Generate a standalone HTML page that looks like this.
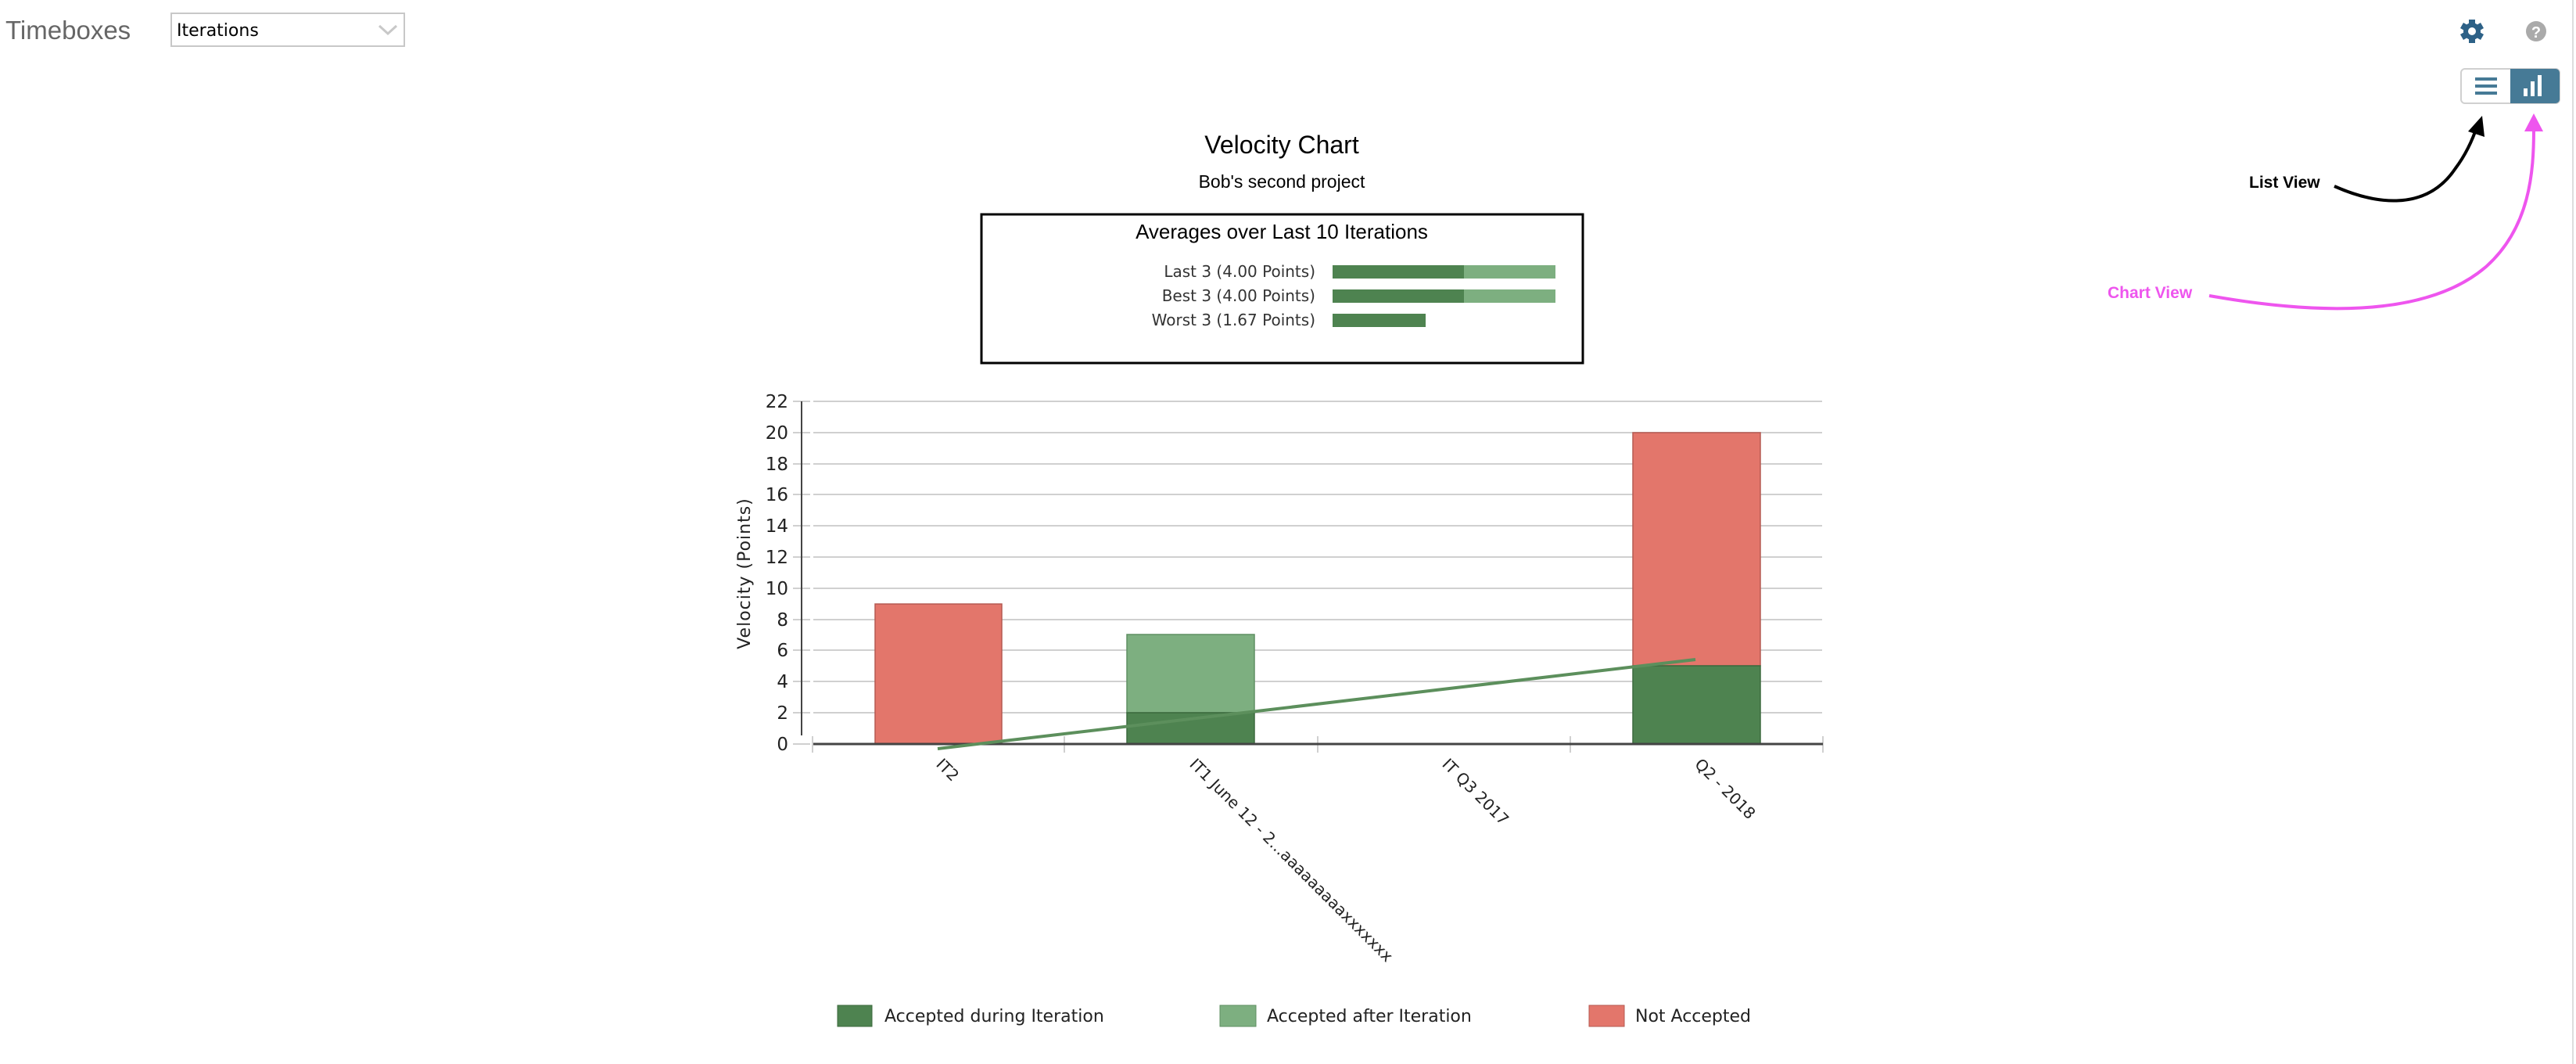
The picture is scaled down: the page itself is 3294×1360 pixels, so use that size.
<!DOCTYPE html>
<html><head><meta charset="utf-8"><style>
html,body{margin:0;padding:0;background:#fff;width:3294px;height:1360px;overflow:hidden}
svg{display:block}
</style></head><body>
<svg width="3294" height="1360" viewBox="0 0 3294 1360" xmlns="http://www.w3.org/2000/svg" font-family="Liberation Sans, DejaVu Sans, sans-serif">
<!-- header -->
<text x="7" y="50" font-size="33" fill="#666">Timeboxes</text>
<rect x="219" y="17" width="298" height="42" fill="#fff" stroke="#c8c8c8" stroke-width="2"/>
<text x="226" y="46" font-size="22" fill="#000" font-family="DejaVu Sans, sans-serif">Iterations</text>
<polyline points="485,33 496,43 507,33" fill="none" stroke="#c8c8c8" stroke-width="3"/>
<!-- gear -->
<g transform="translate(3161,40)" fill="#2d6187">
<circle r="11"/>
<g><rect x="-4" y="-15" width="8" height="30"/><rect x="-4" y="-15" width="8" height="30" transform="rotate(60)"/><rect x="-4" y="-15" width="8" height="30" transform="rotate(120)"/></g>
<circle r="5" fill="#fff"/>
</g>
<circle cx="3243" cy="40" r="13" fill="#aaa"/>
<text x="3243" y="48" font-size="20" font-weight="bold" fill="#fff" text-anchor="middle">?</text>
<!-- toggle -->
<rect x="3147" y="88" width="126" height="44" rx="5" fill="#fff" stroke="#d0d0d0" stroke-width="2"/>
<path d="M3210,88 H3268 a5,5 0 0 1 5,5 V127 a5,5 0 0 1 -5,5 H3210 Z" fill="#467a96"/>
<rect x="3165" y="99" width="28" height="4" fill="#467a96"/><rect x="3165" y="108" width="28" height="4" fill="#467a96"/><rect x="3165" y="117" width="28" height="4" fill="#467a96"/>
<rect x="3227" y="113" width="5" height="10" fill="#fff"/><rect x="3236" y="104" width="5" height="19" fill="#fff"/><rect x="3245" y="96" width="5" height="27" fill="#fff"/>
<line x1="3290" y1="0" x2="3290" y2="1360" stroke="#ddd" stroke-width="2"/>
<!-- annotations -->
<text x="2876" y="240" font-size="21" font-weight="bold" fill="#000">List View</text>
<path d="M2985,238 C3030,258 3100,275 3140,215 C3155,195 3163,175 3168,160" fill="none" stroke="#000" stroke-width="4"/>
<polygon points="3174,148 3156,168 3177,175" fill="#000"/>
<text x="2695" y="381" font-size="21" font-weight="bold" fill="#ee55ee">Chart View</text>
<path d="M2825,378 C2950,400 3100,410 3180,340 C3235,290 3240,220 3240,165" fill="none" stroke="#ee55ee" stroke-width="4"/>
<polygon points="3240,145 3228,168 3252,168" fill="#ee55ee"/>
<!-- titles -->
<text x="1639" y="196" font-size="32" text-anchor="middle" fill="#000">Velocity Chart</text>
<text x="1639" y="240" font-size="23" text-anchor="middle" fill="#000">Bob's second project</text>
<rect x="1255" y="274" width="769" height="190" fill="none" stroke="#000" stroke-width="3"/>
<text x="1639" y="305" font-size="26" text-anchor="middle" fill="#000">Averages over Last 10 Iterations</text>
<g font-size="20" fill="#333" text-anchor="end" font-family="DejaVu Sans, sans-serif">
<text x="1682" y="354">Last 3 (4.00 Points)</text>
<text x="1682" y="385">Best 3 (4.00 Points)</text>
<text x="1682" y="416">Worst 3 (1.67 Points)</text>
</g>
<rect x="1704" y="339" width="285" height="17" fill="#7daf80"/><rect x="1704" y="339" width="168" height="17" fill="#4e8350"/>
<rect x="1704" y="370" width="285" height="17" fill="#7daf80"/><rect x="1704" y="370" width="168" height="17" fill="#4e8350"/>
<rect x="1704" y="401" width="119" height="17" fill="#4e8350"/>
<!-- grid -->
<g stroke="#d0d0d0" stroke-width="2">
<line x1="1040" y1="513" x2="2330" y2="513"/><line x1="1040" y1="553" x2="2330" y2="553"/>
<line x1="1040" y1="593" x2="2330" y2="593"/><line x1="1040" y1="632" x2="2330" y2="632"/>
<line x1="1040" y1="672" x2="2330" y2="672"/><line x1="1040" y1="712" x2="2330" y2="712"/>
<line x1="1040" y1="752" x2="2330" y2="752"/><line x1="1040" y1="792" x2="2330" y2="792"/>
<line x1="1040" y1="831" x2="2330" y2="831"/><line x1="1040" y1="871" x2="2330" y2="871"/>
<line x1="1040" y1="911" x2="2330" y2="911"/>
<line x1="1014" y1="513" x2="1036" y2="513"/><line x1="1014" y1="553" x2="1036" y2="553"/>
<line x1="1014" y1="593" x2="1036" y2="593"/><line x1="1014" y1="632" x2="1036" y2="632"/>
<line x1="1014" y1="672" x2="1036" y2="672"/><line x1="1014" y1="712" x2="1036" y2="712"/>
<line x1="1014" y1="752" x2="1036" y2="752"/><line x1="1014" y1="792" x2="1036" y2="792"/>
<line x1="1014" y1="831" x2="1036" y2="831"/><line x1="1014" y1="871" x2="1036" y2="871"/>
<line x1="1014" y1="911" x2="1036" y2="911"/><line x1="1014" y1="951" x2="1036" y2="951"/>
<line x1="1039" y1="941" x2="1039" y2="962"/><line x1="1361" y1="941" x2="1361" y2="962"/>
<line x1="1685" y1="941" x2="1685" y2="962"/><line x1="2008" y1="941" x2="2008" y2="962"/>
<line x1="2331" y1="941" x2="2331" y2="962"/>
</g>
<line x1="1025" y1="513" x2="1025" y2="940" stroke="#444" stroke-width="2"/>
<g font-size="23" fill="#222" text-anchor="end" font-family="DejaVu Sans, sans-serif">
<text x="1008" y="521">22</text><text x="1008" y="561">20</text><text x="1008" y="601">18</text>
<text x="1008" y="640">16</text><text x="1008" y="680">14</text><text x="1008" y="720">12</text>
<text x="1008" y="760">10</text><text x="1008" y="800">8</text><text x="1008" y="839">6</text>
<text x="1008" y="879">4</text><text x="1008" y="919">2</text><text x="1008" y="959">0</text>
</g>
<text transform="translate(959,733) rotate(-90)" font-size="22" fill="#222" text-anchor="middle" font-family="DejaVu Sans, sans-serif" letter-spacing="1">Velocity (Points)</text>
<!-- bars -->
<g stroke-width="1.5">
<rect x="1119" y="772" width="162" height="179" fill="#e3766b" stroke="#b55a52"/>
<rect x="1441" y="811" width="163" height="100" fill="#7daf80" stroke="#5f8f62"/>
<rect x="1441" y="911" width="163" height="40" fill="#4e8350" stroke="#3c6a3e"/>
<rect x="2088" y="553" width="163" height="298" fill="#e3766b" stroke="#b55a52"/>
<rect x="2088" y="851" width="163" height="100" fill="#4e8350" stroke="#3c6a3e"/>
</g>
<line x1="1040" y1="951" x2="2331" y2="951" stroke="#444" stroke-width="3"/>
<line x1="1199" y1="957" x2="2168" y2="843" stroke="#5c8f5c" stroke-width="4"/>
<!-- x labels -->
<g font-size="20" fill="#222" font-family="DejaVu Sans, sans-serif">
<text transform="translate(1196,978) rotate(45)">IT2</text>
<text transform="translate(1520,978) rotate(45)">IT1  June 12 - 2...aaaaaaaaaxxxxxxx</text>
<text transform="translate(1843,978) rotate(45)">IT Q3 2017</text>
<text transform="translate(2166,978) rotate(45)">Q2 - 2018</text>
</g>
<!-- legend -->
<rect x="1071" y="1285" width="44" height="27" fill="#4e8350" stroke="#3c6a3e"/>
<rect x="1560" y="1285" width="46" height="27" fill="#7daf80" stroke="#5f8f62"/>
<rect x="2032" y="1285" width="45" height="27" fill="#e3766b" stroke="#b55a52"/>
<g font-size="22" fill="#222" font-family="DejaVu Sans, sans-serif">
<text x="1131" y="1306">Accepted during Iteration</text>
<text x="1620" y="1306">Accepted after Iteration</text>
<text x="2091" y="1306">Not Accepted</text>
</g>
</svg>
</body></html>
